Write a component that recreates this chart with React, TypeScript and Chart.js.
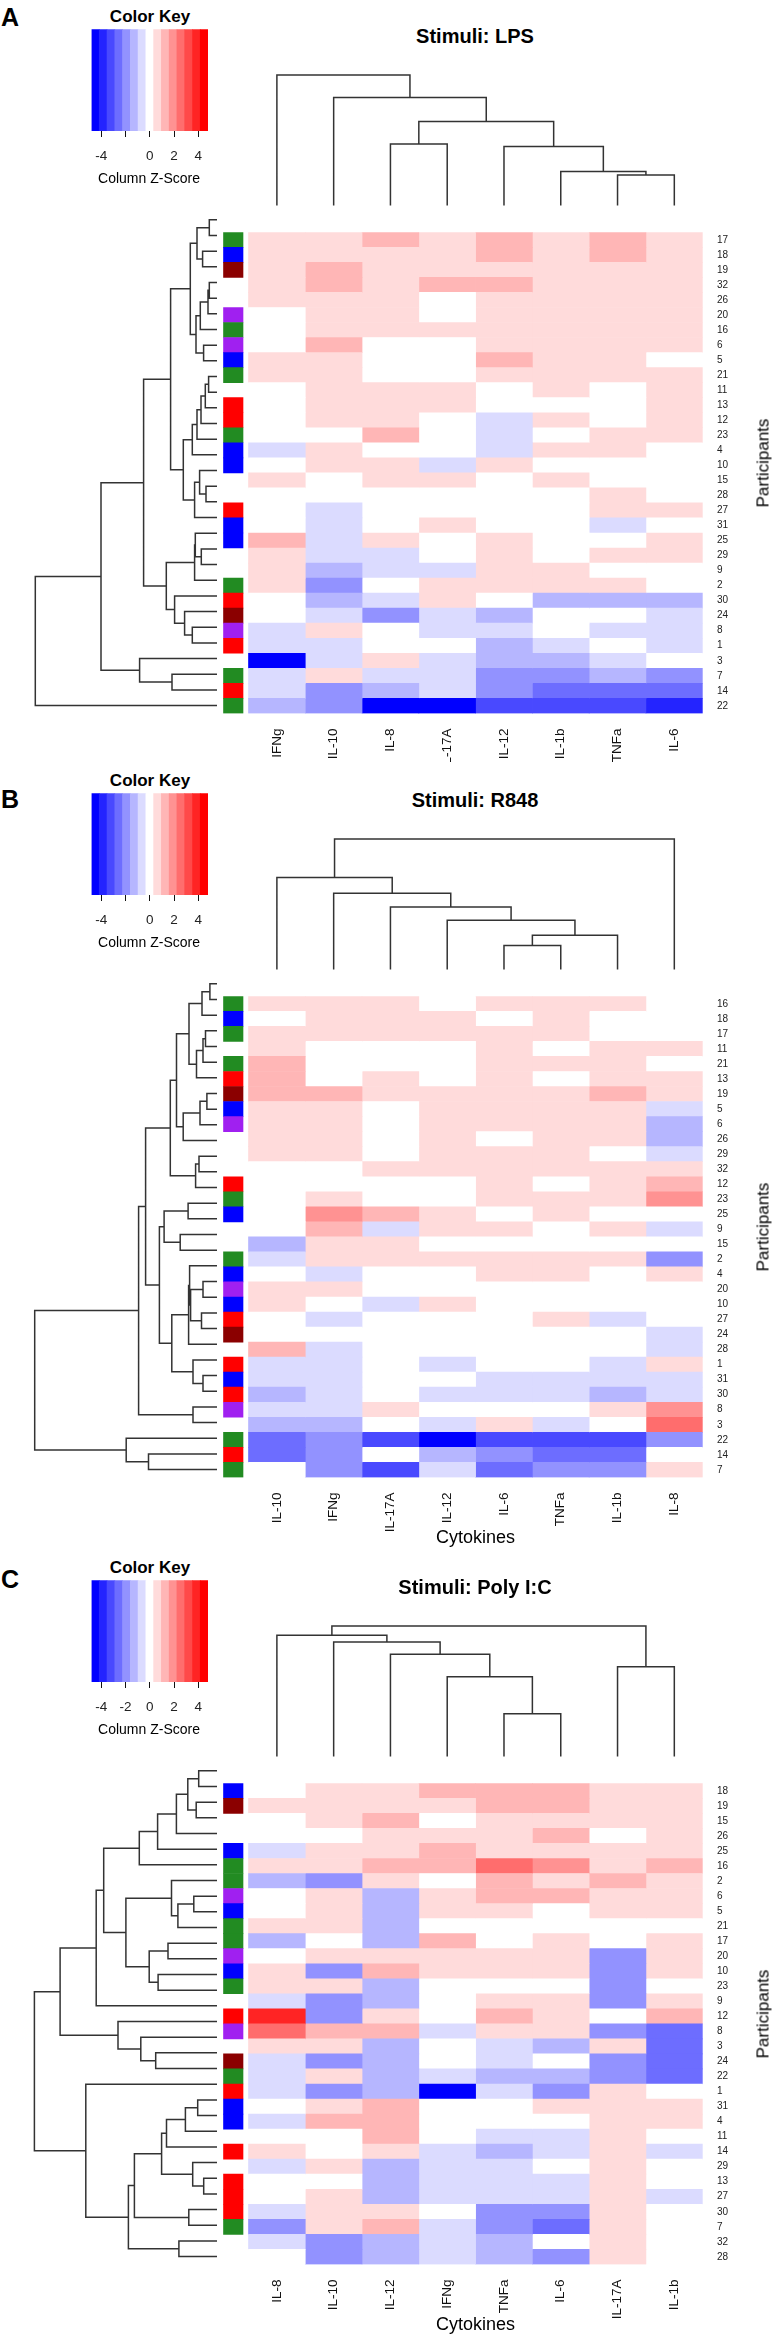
import React, { useEffect, useRef } from "react";
import { Chart, registerables } from "chart.js";
Chart.register(...registerables);

const FONT = "'Liberation Sans', Arial, Helvetica, sans-serif";

// ---- colour key ----
const keyColors = [
  "#0000FF", "#2424FF", "#4949FF", "#6D6DFF", "#9292FF", "#B6B6FF", "#DBDBFF", "#FFFFFF",
  "#FFDBDB", "#FFB6B6", "#FF9292", "#FF6D6D", "#FF4949", "#FF2424", "#FF0000",
];
const keyBreaks = [-4.8, -4.16, -3.52, -2.88, -2.24, -1.6, -0.96, -0.32, 0.32, 0.96, 1.6, 2.24, 2.88, 3.52, 4.16, 4.8];
const keyTicks = [-4, -2, 0, 2, 4];
const keyTickLabelsAB = ["-4", "", "0", "2", "4"];
const keyTickLabelsC = ["-4", "-2", "0", "2", "4"];

const groupColors: Record<string, string> = { G: "#228B22", B: "#0000FF", D: "#8B0000", P: "#A020F0", R: "#FF0000" };

// ---- Panel A: LPS ----
const lpsCytokines = ["IFNg", "IL-10", "IL-8", "IL-17A", "IL-12", "IL-1b", "TNFa", "IL-6"];
const lpsParticipants = ["17","18","19","32","26","20","16","6","5","21","11","13","12","23","4","10","15","28","27","31","25","29","9","2","30","24","8","1","3","7","14","22"];
const lpsZ = [
  [0.6,0.6,1.3,0.6,1.3,0.6,1.3,0.6],
  [0.6,0.6,0.6,0.6,1.3,0.6,1.3,0.6],
  [0.6,1.3,0.6,0.6,0.6,0.6,0.6,0.6],
  [0.6,1.3,0.6,1.3,1.3,0.6,0.6,0.6],
  [0.6,0.6,0.6,0,0.6,0.6,0.6,0.6],
  [0,0.6,0.6,0,0.6,0.6,0.6,0.6],
  [0,0.6,0.6,0.6,0.6,0.6,0.6,0.6],
  [0,1.3,0,0,0.6,0.6,0.6,0.6],
  [0.6,0.6,0,0,1.3,0.6,0.6,0],
  [0.6,0.6,0,0,0.6,0.6,0.6,0.6],
  [0,0.6,0.6,0.6,0,0.6,0,0.6],
  [0,0.6,0.6,0.6,0,0,0,0.6],
  [0,0.6,0.6,0,-0.6,0.6,0,0.6],
  [0,0,1.3,0,-0.6,0,0.6,0.6],
  [-0.6,0.6,0,0,-0.6,0.6,0.6,0],
  [0,0.6,0.6,-0.6,0.6,0,0,0],
  [0.6,0,0.6,0.6,0,0.6,0,0],
  [0,0,0,0,0,0,0.6,0],
  [0,-0.6,0,0,0,0,0.6,0.6],
  [0,-0.6,0,0.6,0,0,-0.6,0],
  [1.3,-0.6,0.6,0,0.6,0,0,0.6],
  [0.6,-0.6,-0.6,0,0.6,0,0.6,0.6],
  [0.6,-1.3,-0.6,-0.6,0.6,0.6,0,0],
  [0.6,-1.9,0,0.6,0.6,0.6,0.6,0],
  [0,-1.3,-0.6,0.6,0,-1.3,-1.3,-1.3],
  [0,-0.6,-1.9,-0.6,-1.3,0,0,-0.6],
  [-0.6,0.6,0,-0.6,-0.6,0,-0.6,-0.6],
  [-0.6,-0.6,0,0,-1.3,-0.6,0,-0.6],
  [-4.5,-0.6,0.6,-0.6,-1.3,-1.3,-0.6,0],
  [-0.6,0.6,-0.6,-0.6,-1.9,-1.9,-1.3,-1.9],
  [-0.6,-1.9,-1.3,-0.6,-1.9,-2.6,-2.6,-2.6],
  [-1.3,-1.9,-4.5,-4.5,-3.2,-3.2,-3.2,-3.8],
];
const lpsGroups = ["G","B","D","","","P","G","P","B","G","","R","R","G","B","B","","","R","B","B","","","G","R","D","P","R","","G","R","G"];
const lpsRowMerges = [
  [-1,-2,7.7],[-3,-4,14.4],[1,2,20],[-5,-6,7.7],[4,-7,9],[5,-8,16.7],[-9,-10,13.4],[6,7,21],[3,8,26.7],
  [-11,-12,8.4],[10,-13,11.7],[11,-14,16],[12,-15,20],[13,-16,24.7],[-18,-19,11],[-17,15,17.4],[16,-20,22.4],
  [14,17,33.7],[9,18,46.4],[-22,-23,15.7],[-21,20,21.7],[21,-24,22.4],[-27,-28,24.7],[-26,23,32.4],[-25,24,42.4],
  [22,25,50.7],[19,26,73.4],[-30,-31,45],[-29,28,77.4],[27,29,116],[30,-32,181.7],
];
const lpsColMerges = [[-7,-8,30.5],[-6,1,34],[-5,2,59],[-3,-4,61.4],[4,3,84],[-2,5,108],[-1,6,130.5]];

// ---- Panel B: R848 ----
const r848Cytokines = ["IL-10", "IFNg", "IL-17A", "IL-12", "IL-6", "TNFa", "IL-1b", "IL-8"];
const r848Participants = ["16","18","17","11","21","13","19","5","6","26","29","32","12","23","25","9","15","2","4","20","10","27","24","28","1","31","30","8","3","22","14","7"];
const r848Z = [
  [0.6,0.6,0.6,0,0.6,0.6,0.6,0],
  [0,0.6,0.6,0.6,0,0.6,0,0],
  [0.6,0.6,0.6,0.6,0.6,0.6,0,0],
  [0.6,0,0,0,0.6,0,0.6,0.6],
  [1.3,0,0,0,0.6,0.6,0.6,0],
  [1.3,0,0.6,0,0.6,0,0.6,0.6],
  [1.3,1.3,0.6,0.6,0.6,0.6,1.3,0.6],
  [0.6,0.6,0,0.6,0.6,0.6,0.6,-0.6],
  [0.6,0.6,0,0.6,0.6,0.6,0.6,-1.3],
  [0.6,0.6,0,0.6,0,0.6,0.6,-1.3],
  [0.6,0.6,0,0.6,0.6,0.6,0,-0.6],
  [0,0,0.6,0.6,0.6,0.6,0.6,0.6],
  [0,0,0,0,0.6,0,0.6,1.3],
  [0,0.6,0,0,0.6,0.6,0.6,1.9],
  [0,1.9,1.3,0.6,0,0.6,0,0],
  [0,1.3,-0.6,0.6,0.6,0,0.6,-0.6],
  [-1.3,0.6,0.6,0,0,0,0,0],
  [-0.6,0.6,0.6,0.6,0.6,0.6,0.6,-1.9],
  [0,-0.6,0,0,0.6,0.6,0,0.6],
  [0.6,0.6,0,0,0,0,0,0],
  [0.6,0,-0.6,0.6,0,0,0,0],
  [0,-0.6,0,0,0,0.6,-0.6,0],
  [0,0,0,0,0,0,0,-0.6],
  [1.3,-0.6,0,0,0,0,0,-0.6],
  [-0.6,-0.6,0,-0.6,0,0,-0.6,0.6],
  [-0.6,-0.6,0,0,-0.6,-0.6,-0.6,-0.6],
  [-1.3,-0.6,0,-0.6,-0.6,-0.6,-1.3,-0.6],
  [-0.6,-0.6,0.6,0,0,0,0.6,1.9],
  [-1.3,-1.3,0,-0.6,0.6,-0.6,0,2.6],
  [-2.6,-1.9,-3.2,-4.5,-3.2,-3.2,-3.2,-1.9],
  [-2.6,-1.9,0,-1.3,-1.9,-2.6,-2.6,0],
  [0,-1.9,-3.2,-0.6,-2.6,-1.9,-1.9,0.6],
];
const r848Groups = ["G","B","G","","G","R","D","B","P","","","","R","G","B","","","G","B","P","B","R","D","","R","B","R","P","","G","R","G"];
const r848RowMerges = [
  [-1,-2,7.1],[1,-3,15],[-4,-5,11.5],[3,-6,14],[4,-7,20.5],[2,5,28],[-8,-9,10.1],[7,-10,17],[8,-11,33.8],
  [6,9,40.5],[-12,-13,18],[11,-14,21.4],[10,12,46.7],[-15,-16,28.9],[-17,-18,36.8],[14,15,52.9],
  [-20,-21,14],[-22,-23,15.5],[17,18,26.4],[-19,19,27.4],[20,-24,28.4],[-26,-27,14],[-25,22,24],[21,23,45.2],
  [16,24,57.6],[13,25,71.4],[-28,-29,24],[26,27,78.4],[-31,-32,68.5],[-30,29,90.8],[28,30,182.3],
];
const r848ColMerges = [[-5,-6,24],[1,-7,34],[-4,2,49],[-3,3,62.3],[-2,4,76],[-1,5,91.6],[6,-8,130]];

// ---- Panel C: Poly I:C ----
const polyCytokines = ["IL-8", "IL-10", "IL-12", "IFNg", "TNFa", "IL-6", "IL-17A", "IL-1b"];
const polyParticipants = ["18","19","15","26","25","16","2","6","5","21","17","20","10","23","9","12","8","3","24","22","1","31","4","11","14","29","13","27","30","7","32","28"];
const polyZ = [
  [0,0.6,0.6,1.3,1.3,1.3,0.6,0.6],
  [0.6,0.6,0.6,0.6,1.3,1.3,0.6,0.6],
  [0,0.6,1.3,0,0.6,0.6,0.6,0.6],
  [0,0,0.6,0.6,0.6,1.3,0,0.6],
  [-0.6,0.6,0.6,1.3,0.6,0.6,0.6,0.6],
  [0.6,0.6,1.3,1.3,2.6,1.9,0.6,1.3],
  [-1.3,-1.9,0.6,0,1.3,0.6,1.3,0.6],
  [0,0.6,-1.3,0.6,1.3,1.3,0.6,0.6],
  [0,0.6,-1.3,0.6,0.6,0,0.6,0.6],
  [0.6,0.6,-1.3,0,0,0,0,0],
  [-1.3,0,-1.3,1.3,0,0.6,0,0.6],
  [0,0.6,0.6,0.6,0.6,0.6,-1.9,0.6],
  [0.6,-1.9,1.3,0.6,0.6,0.6,-1.9,0.6],
  [0.6,0.6,-1.3,0,0,0,-1.9,0],
  [-0.6,-1.9,-1.3,0,0.6,0.6,-1.9,0.6],
  [3.8,-1.9,0.6,0,1.3,0.6,0,1.3],
  [2.6,1.3,1.3,-0.6,0.6,0.6,-1.9,-2.6],
  [0.6,0.6,-1.3,0,-0.6,-1.3,0.6,-2.6],
  [-0.6,-1.9,-1.3,0,-0.6,0,-1.9,-2.6],
  [-0.6,0.6,-1.3,-0.6,-1.3,-1.3,-1.9,-2.6],
  [-0.6,-1.9,-1.3,-4.5,-0.6,-1.9,0.6,0],
  [0,0.6,1.3,0,0,0.6,0.6,0.6],
  [-0.6,1.3,1.3,0,0,0,0.6,0.6],
  [0,0,1.3,0,-0.6,-0.6,0.6,0],
  [0.6,0,0.6,-0.6,-1.3,-0.6,0.6,-0.6],
  [-0.6,0.6,-1.3,-0.6,-0.6,0,0.6,0],
  [0,0,-1.3,-0.6,-0.6,-0.6,0.6,0],
  [0,0.6,-1.3,-0.6,-0.6,-0.6,0.6,-0.6],
  [-0.6,0.6,0.6,0,-1.9,-1.9,0.6,0],
  [-1.9,0.6,1.3,-0.6,-1.9,-2.6,0.6,0],
  [-0.6,-1.9,-1.3,-0.6,-1.3,0,0.6,0],
  [0,-1.9,-1.3,-0.6,-1.3,-1.9,0.6,0],
];
const polyGroups = ["B","D","","","B","G","G","P","B","G","G","P","B","G","","R","P","","D","G","R","B","B","","R","","R","R","R","G","",""];
const polyRowMerges = [
  [-1,-2,18.3],[-3,-4,20.8],[1,2,29.2],[3,-5,40.6],[4,-6,59.4],[5,-7,77.7],[-9,-10,23.2],[7,-11,39.1],[-8,8,45.5],
  [-12,-13,49],[-14,-15,58.9],[10,11,67.8],[9,12,91.1],[6,13,113.3],[14,-16,120.8],[-19,-20,61.3],[-18,16,76.2],
  [-17,17,99],[15,18,156.9],[-22,-23,19.3],[20,-24,31.6],[21,-25,50.5],[-27,-28,13.3],[-26,23,24.3],[22,24,55.4],
  [-29,-30,28.2],[25,26,82.6],[-31,-32,38.1],[27,28,88.6],[-21,29,131.2],[19,30,182.6],
];
const polyColMerges = [[-5,-6,43],[-4,1,80],[-3,2,102.7],[-2,3,115],[-1,4,121.7],[-7,-8,90],[5,6,131]];

// ---- layout constants ----
const PLOT_H = 501.4;
const SIDE_BAR = [-0.44, -0.097];

type Spec = {
  letter: string; letterTop: number; top: number; height: number; heatH: number; title: string;
  cytokines: string[]; participants: string[]; z: number[][]; groups: string[];
  rowMerges: number[][]; colMerges: number[][]; keyLabels: string[]; xTitle: boolean;
};

const panels: Spec[] = [
  { letter: "A", letterTop: 4.5, top: 0, height: 762, heatH: 550, title: "Stimuli: LPS", cytokines: lpsCytokines,
    participants: lpsParticipants, z: lpsZ, groups: lpsGroups, rowMerges: lpsRowMerges, colMerges: lpsColMerges,
    keyLabels: keyTickLabelsAB, xTitle: false },
  { letter: "B", letterTop: 22.5, top: 764, height: 787, heatH: 560, title: "Stimuli: R848", cytokines: r848Cytokines,
    participants: r848Participants, z: r848Z, groups: r848Groups, rowMerges: r848RowMerges, colMerges: r848ColMerges,
    keyLabels: keyTickLabelsAB, xTitle: true },
  { letter: "C", letterTop: 15.5, top: 1551, height: 784, heatH: 560, title: "Stimuli: Poly I:C", cytokines: polyCytokines,
    participants: polyParticipants, z: polyZ, groups: polyGroups, rowMerges: polyRowMerges, colMerges: polyColMerges,
    keyLabels: keyTickLabelsC, xTitle: true },
];

function zColor(z: number) {
  for (let i = 0; i < keyColors.length; i++) if (z < keyBreaks[i + 1]) return keyColors[i];
  return keyColors[keyColors.length - 1];
}

// build dendrogram polyline (with NaN gaps) from hclust-like merges
function dendroPoints(merges: number[][], horizontal: boolean) {
  const nodes: { pos: number; h: number }[] = [];
  const pts: { x: number; y: number }[] = [];
  const get = (ref: number) => (ref < 0 ? { pos: -ref - 1 + 0.5, h: 0 } : nodes[ref - 1]);
  const add = (pos: number, h: number) => pts.push(horizontal ? { x: h, y: pos } : { x: pos, y: h });
  merges.forEach(([a, b, h]) => {
    const A = get(a);
    const B = get(b);
    add(A.pos, A.h); add(A.pos, h); add(B.pos, h); add(B.pos, B.h);
    pts.push({ x: NaN, y: NaN });
    nodes.push({ pos: (A.pos + B.pos) / 2, h });
  });
  return pts;
}

const baseOpts = {
  responsive: false,
  animation: false as const,
  devicePixelRatio: 1,
  events: [] as any[],
  plugins: { legend: { display: false }, tooltip: { enabled: false } },
};

function Panel({ spec }: { spec: Spec }) {
  const keyRef = useRef<HTMLCanvasElement>(null);
  const colRef = useRef<HTMLCanvasElement>(null);
  const rowRef = useRef<HTMLCanvasElement>(null);
  const heatRef = useRef<HTMLCanvasElement>(null);

  useEffect(() => {
    const charts: Chart[] = [];

    // colour key
    charts.push(new Chart(keyRef.current!, {
      type: "bar",
      data: {
        labels: ["key"],
        datasets: [{
          data: keyColors.map((_, i) => ({ y: "key", x: [keyBreaks[i], keyBreaks[i + 1]] })) as any,
          backgroundColor: keyColors, borderWidth: 0, barPercentage: 1, categoryPercentage: 1, grouped: false,
        } as any],
      },
      options: {
        ...baseOpts,
        indexAxis: "y",
        layout: { padding: { left: 11.5, right: 12, top: 4.3, bottom: 0 }, autoPadding: false },
        scales: {
          x: {
            type: "linear", min: keyBreaks[0], max: keyBreaks[keyBreaks.length - 1],
            afterBuildTicks: (s: any) => { s.ticks = keyTicks.map((v) => ({ value: v })); },
            afterFit: (s: any) => { s.height = 44; },
            ticks: { autoSkip: false, minRotation: 0, maxRotation: 0, padding: 11, color: "#222",
              font: { family: FONT, size: 13.5 }, callback: (_v: any, i: number) => spec.keyLabels[i] },
            grid: { drawOnChartArea: false, drawTicks: true, tickLength: 6, tickColor: "#111", tickWidth: 1 },
            border: { display: false },
          },
          y: { type: "category", display: false },
        },
      } as any,
    }));

    // column dendrogram
    const colRoot = spec.colMerges[spec.colMerges.length - 1][2];
    charts.push(new Chart(colRef.current!, {
      type: "scatter",
      data: { datasets: [{ data: dendroPoints(spec.colMerges, false), showLine: true, pointRadius: 0,
        borderColor: "#333", borderWidth: 1.5, spanGaps: false, clip: false } as any] },
      options: {
        ...baseOpts,
        layout: { padding: { left: 0.5, right: 0.3, top: 5, bottom: 0.5 }, autoPadding: false },
        scales: {
          x: { type: "linear", display: false, min: 0, max: spec.cytokines.length },
          y: { type: "linear", display: false, min: 0, max: colRoot },
        },
      } as any,
    }));

    // row dendrogram
    charts.push(new Chart(rowRef.current!, {
      type: "scatter",
      data: { datasets: [{ data: dendroPoints(spec.rowMerges, true), showLine: true, pointRadius: 0,
        borderColor: "#333", borderWidth: 1.5, spanGaps: false, clip: false } as any] },
      options: {
        ...baseOpts,
        layout: { padding: { left: 0, right: 0, top: 0, bottom: 0.6 }, autoPadding: false },
        scales: {
          x: { type: "linear", display: false, min: 0, max: 217, reverse: true },
          y: { type: "linear", display: false, min: 0, max: spec.participants.length, reverse: true },
        },
      } as any,
    }));

    // heatmap + side colour bar
    const datasets: any[] = spec.cytokines.map((name, c) => ({
      label: name,
      data: spec.participants.map(() => [c, c + 1]),
      backgroundColor: spec.participants.map((_, r) => zColor(spec.z[r][c])),
      borderWidth: 0, grouped: false, barPercentage: 1, categoryPercentage: 1,
    }));
    datasets.push({
      label: "group",
      data: spec.groups.map((g) => (g ? SIDE_BAR : null)),
      backgroundColor: spec.groups.map((g) => groupColors[g] || "rgba(0,0,0,0)"),
      borderWidth: 0, grouped: false, barPercentage: 1, categoryPercentage: 1,
    });
    const heatW = 556;
    const yAxisW = 73.3;
    charts.push(new Chart(heatRef.current!, {
      type: "bar",
      data: { labels: spec.participants, datasets },
      options: {
        ...baseOpts,
        indexAxis: "y",
        layout: { padding: 0, autoPadding: false },
        scales: {
          x: {
            type: "linear", position: "bottom", min: -28.5 / ((heatW - yAxisW - 28.5) / 8), max: spec.cytokines.length,
            afterBuildTicks: (s: any) => { s.ticks = spec.cytokines.map((_, i) => ({ value: i + 0.5 })); },
            afterFit: (s: any) => { s.height = spec.heatH - PLOT_H; },
            ticks: { autoSkip: false, minRotation: 90, maxRotation: 90, padding: 15, color: "#111",
              font: { family: FONT, size: 13.5 }, callback: (_v: any, i: number) => spec.cytokines[i] },
            grid: { display: false, drawTicks: false }, border: { display: false },
          },
          y: {
            type: "category", position: "right", offset: true,
            afterFit: (s: any) => { s.width = yAxisW; },
            ticks: { autoSkip: false, padding: 14.3, color: "#222", font: { family: FONT, size: 10 } },
            grid: { display: false, drawTicks: false }, border: { display: false },
          },
        },
      } as any,
    }));

    return () => charts.forEach((c) => c.destroy());
  }, [spec]);

  const abs = (l: number, t: number, w: number, h: number): React.CSSProperties =>
    ({ position: "absolute", left: l, top: t, width: w, height: h });
  const centered = (x: number, y: number, size: number, bold = false, rotate = 0): React.CSSProperties => ({
    position: "absolute", left: x, top: y, fontFamily: FONT, fontSize: size, fontWeight: bold ? 700 : 400,
    lineHeight: 1, whiteSpace: "nowrap", color: "#000",
    transform: `translate(-50%, -50%)${rotate ? ` rotate(${rotate}deg)` : ""}`,
  });

  return (
    <div style={{ position: "absolute", left: 0, top: spec.top, width: 776, height: spec.height, overflow: "hidden" }}>
      <div style={{ position: "absolute", left: 1, top: spec.letterTop, fontFamily: FONT, fontSize: 25,
        fontWeight: 700, lineHeight: 1, color: "#000" }}>{spec.letter}</div>
      <div style={centered(150, 16, 17, true)}>Color Key</div>
      <canvas ref={keyRef} width={140} height={150} style={abs(80, 25, 140, 150)} />
      <div style={centered(149, 178, 14)}>Column Z-Score</div>
      <div style={centered(475, 36, 20, true)}>{spec.title}</div>
      <canvas ref={colRef} width={455} height={136} style={abs(248, 70, 455, 136)} />
      <canvas ref={rowRef} width={217} height={502} style={abs(0, 212, 217, 502)} />
      <canvas ref={heatRef} width={556} height={spec.heatH} style={abs(220, 212, 556, spec.heatH)} />
      <div style={centered(762.5, 462.5, 17, false, -90)}>Participants</div>
      {spec.xTitle && <div style={centered(475.6, 773, 18)}>Cytokines</div>}
    </div>
  );
}

export default function App() {
  return (
    <div style={{ position: "absolute", left: 0, top: 0, width: 776, height: 2335, background: "#fff", overflow: "hidden" }}>
      {panels.map((p) => <Panel key={p.letter} spec={p} />)}
    </div>
  );
}
